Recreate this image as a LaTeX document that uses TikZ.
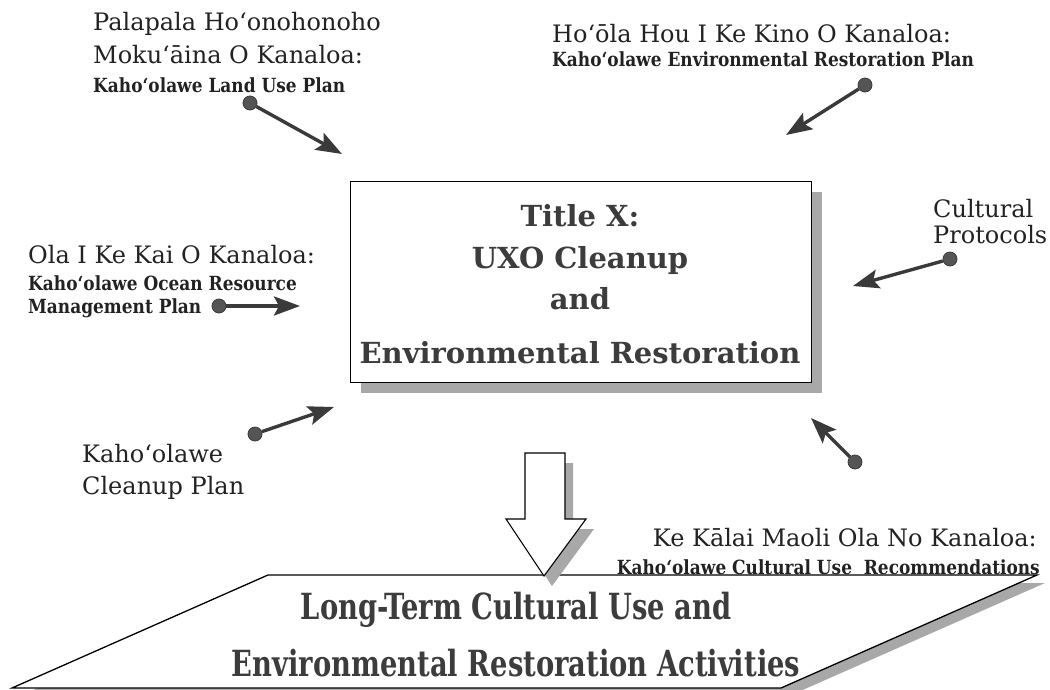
\documentclass[tikz,border=0pt]{standalone}
\usepackage{fontspec}
\setmainfont{DejaVu Serif}
\newfontfamily\condfont[FakeStretch=0.76]{DejaVu Serif}
\newfontfamily\semicond[FakeStretch=0.87]{DejaVu Serif}
\usetikzlibrary{arrows.meta}
\definecolor{ink}{HTML}{222222}
\definecolor{arrowgray}{HTML}{3A3A3A}
\definecolor{dotgray}{HTML}{555555}
\definecolor{shadowgray}{HTML}{A8A8A8}
\definecolor{titleink}{HTML}{3C3C3C}
\tikzset{
  biglabel/.style={font=\fontsize{24}{28}\selectfont, text=ink, inner sep=0pt},
  smalllabel/.style={font=\semicond\bfseries\fontsize{19.5}{22}\selectfont, text=ink, inner sep=0pt},
  titletext/.style={font=\bfseries\fontsize{29}{34}\selectfont, text=titleink, inner sep=0pt, anchor=base},
  basetext/.style={font=\condfont\bfseries\fontsize{36}{40}\selectfont, text=titleink, inner sep=0pt, anchor=base},
  dotnode/.style={circle, fill=dotgray, draw=arrowgray, line width=0.8pt, minimum size=14pt, inner sep=0pt},
  feed/.style={draw=arrowgray, line width=3.4pt, -{Stealth[length=26pt,width=19pt,inset=5pt]}, fill=arrowgray},
  boxline/.style={draw=black, line width=1.3pt, fill=white}
}
\begin{document}
\begin{tikzpicture}[x=1pt,y=-1pt]
\useasboundingbox (0,0) rectangle (1050,689);

% ---------- central box ----------
\fill[shadowgray] (361,192) rectangle (822,393);
\node[boxline, minimum width=461pt, minimum height=201pt, anchor=north west, inner sep=0pt] (box) at (350,181) {};
\node[titletext] (t1) at (580,226) {Title X:};
\node[titletext] (t2) at (580,268) {UXO Cleanup};
\node[titletext] (t3) at (580,309) {and};
\node[titletext] (t4) at (580,363) {Environmental Restoration};

% ---------- bottom parallelogram ----------
\fill[shadowgray] (276,583) -- (1045,583) -- (789,696) -- (20,696) -- cycle;
\draw[boxline] (268,575) -- (1037,575) -- (781,688) -- (12,688) -- cycle;
\node[basetext] (b1) at (516,619) {Long-Term Cultural Use and};
\node[basetext] (b2) at (516,676) {Environmental Restoration Activities};

% ---------- down arrow ----------
\fill[shadowgray] (533,463) -- (573,463) -- (573,529) -- (594,529) -- (552,586) -- (514,529) -- (533,529) -- cycle;
\draw[boxline, line width=1.1pt] (525,453) -- (565,453) -- (565,519) -- (586,519) -- (544,576) -- (506,519) -- (525,519) -- cycle;

% ---------- labels ----------
\node[biglabel, anchor=base west] (l1a) at (93,30) {Palapala Ho‘onohonoho};
\node[biglabel, anchor=base west] (l1b) at (93,63) {Moku‘āina O Kanaloa:};
\node[smalllabel, anchor=base west] (l1c) at (93,92) {Kaho‘olawe Land Use Plan};

\node[biglabel, anchor=base west] (l2a) at (552,42) {Ho‘ōla Hou I Ke Kino O Kanaloa:};
\node[smalllabel, anchor=base west] (l2b) at (552,66) {Kaho‘olawe Environmental Restoration Plan};

\node[biglabel, anchor=base west] (l3a) at (28,263) {Ola I Ke Kai O Kanaloa:};
\node[smalllabel, anchor=base west] (l3b) at (28,290) {Kaho‘olawe Ocean Resource};
\node[smalllabel, anchor=base west] (l3c) at (28,313) {Management Plan};

\node[biglabel, anchor=base west] (l4a) at (933,217) {Cultural};
\node[biglabel, anchor=base west] (l4b) at (933,243) {Protocols};

\node[biglabel, anchor=base west] (l5a) at (82,462) {Kaho‘olawe};
\node[biglabel, anchor=base west] (l5b) at (82,494) {Cleanup Plan};

\node[biglabel, anchor=base east] (l6a) at (1037,546) {Ke Kālai Maoli Ola No Kanaloa:};
\node[smalllabel, anchor=base east] (l6b) at (1040,574) {Kaho‘olawe Cultural Use\ \ Recommendations};

% ---------- feeder arrows ----------
\node[dotnode] (d1) at (250,103) {};
\coordinate (e1) at (342,154);
\node[dotnode] (d2) at (865,85) {};
\coordinate (e2) at (786,135);
\node[dotnode] (d3) at (219,306) {};
\coordinate (e3) at (300,306);
\node[dotnode] (d4) at (950,259) {};
\coordinate (e4) at (853,286);
\node[dotnode] (d5) at (255,434) {};
\coordinate (e5) at (334,407);
\node[dotnode] (d6) at (855,462) {};
\coordinate (e6) at (811,418);

\draw[feed] (d1) -- (e1);
\draw[feed] (d2) -- (e2);
\draw[feed] (d3) -- (e3);
\draw[feed] (d4) -- (e4);
\draw[feed] (d5) -- (e5);
\draw[feed] (d6) -- (e6);
\end{tikzpicture}
\end{document}
